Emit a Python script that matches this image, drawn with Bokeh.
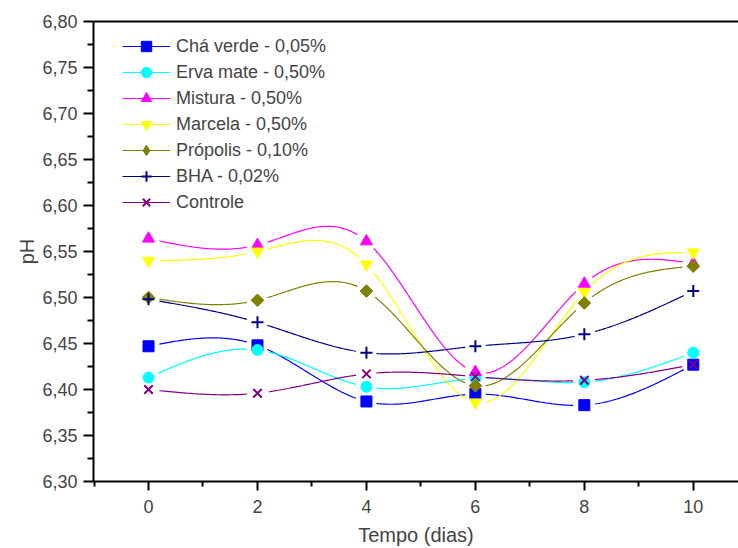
import numpy as np
from bokeh.plotting import figure
from bokeh.models import (FixedTicker, LinearAxis, Legend, LegendItem,
                          CustomJSTickFormatter, Range1d)
from bokeh.embed import file_html
from bokeh.resources import INLINE

# ---------------- data ----------------
tempo = [0, 2, 4, 6, 8, 10]
cha_verde = [6.447, 6.448, 6.387, 6.395, 6.383, 6.427]
erva_mate = [6.413, 6.443, 6.403, 6.412, 6.408, 6.440]
mistura = [6.564, 6.557, 6.561, 6.419, 6.515, 6.537]
marcela = [6.540, 6.550, 6.536, 6.386, 6.506, 6.549]
propolis = [6.500, 6.497, 6.507, 6.404, 6.494, 6.534]
bha = [6.498, 6.473, 6.440, 6.447, 6.460, 6.507]
controle = [6.400, 6.396, 6.417, 6.414, 6.410, 6.427]

series_names = ["Chá verde - 0,05%", "Erva mate - 0,50%", "Mistura - 0,50%",
                "Marcela - 0,50%", "Própolis - 0,10%", "BHA - 0,02%", "Controle"]
series_values = [cha_verde, erva_mate, mistura, marcela, propolis, bha, controle]
series_colors = ["#0000FF", "#00FFFF", "#FF00FF", "#FFFF00", "#808000", "#000080", "#800080"]

x_ticks = [0, 2, 4, 6, 8, 10]
x_minor = [-1, 1, 3, 5, 7, 9]
y_ticks = [6.30, 6.35, 6.40, 6.45, 6.50, 6.55, 6.60, 6.65, 6.70, 6.75, 6.80]
y_minor = [6.325, 6.375, 6.425, 6.475, 6.525, 6.575, 6.625, 6.675, 6.725, 6.775]

FONT = "Liberation Sans"


def natural_spline(x, y, n=400):
    x = np.asarray(x, float)
    y = np.asarray(y, float)
    k = len(x)
    h = np.diff(x)
    A = np.zeros((k, k))
    b = np.zeros(k)
    A[0, 0] = 1
    A[-1, -1] = 1
    for i in range(1, k - 1):
        A[i, i - 1] = h[i - 1]
        A[i, i] = 2 * (h[i - 1] + h[i])
        A[i, i + 1] = h[i]
        b[i] = 6 * ((y[i + 1] - y[i]) / h[i] - (y[i] - y[i - 1]) / h[i - 1])
    M = np.linalg.solve(A, b)
    xs = np.linspace(x[0], x[-1], n)
    ys = np.empty_like(xs)
    for j, t in enumerate(xs):
        i = min(np.searchsorted(x, t, side="right") - 1, k - 2)
        hi = h[i]
        a = x[i + 1] - t
        c = t - x[i]
        ys[j] = (M[i] * a ** 3 / (6 * hi) + M[i + 1] * c ** 3 / (6 * hi)
                 + (y[i] / hi - M[i] * hi / 6) * a + (y[i + 1] / hi - M[i + 1] * hi / 6) * c)
    return xs, ys


p = figure(width=738, height=548, output_backend="svg", toolbar_location=None,
           x_range=Range1d(-1.01, 10.83), y_range=Range1d(6.30, 6.80),
           min_border_left=93, min_border_right=0, min_border_top=21, min_border_bottom=40)
p.xgrid.visible = False
p.ygrid.visible = False
p.outline_line_color = None
p.background_fill_color = "white"

px_per_x = 54.5
px_per_y = 920.0

items = []
markers = ["square", "circle", "triangle", "inverted_triangle", "square", "cross", "x"]
sizes = [11, 11, 12, 12, 9, 12, 12]
angles = [0, 0, 0, 0, np.pi / 4, 0, 0]
for name, vals, col, mk, sz, ang in zip(series_names, series_values, series_colors, markers, sizes, angles):
    xs, ys = natural_spline(tempo, vals)
    # leave gaps around markers
    d = np.min(np.hypot((xs[:, None] - np.array(tempo)[None, :]) * px_per_x,
                        (ys[:, None] - np.array(vals)[None, :]) * px_per_y), axis=1)
    ys_g = ys.copy()
    ys_g[d < 10] = np.nan
    lr = p.line(xs, ys_g, line_color=col, line_width=1.2)
    lw = 2 if mk in ("cross", "x") else 1
    legend_rs = [lr]
    if ang != 0:
        # diamond shape for the legend key, hidden beneath the rotated squares
        dr = p.scatter(tempo, vals, marker="diamond", size=8, fill_color=col,
                       line_color=col)
        legend_rs.append(dr)
    mr = p.scatter(tempo, vals, marker=mk, size=sz, angle=ang, fill_color=col,
                   line_color=col, line_width=lw)
    if ang == 0:
        legend_rs.append(mr)
    items.append(LegendItem(label=name, renderers=legend_rs))

legend = Legend(items=items, location=(29, 266), padding=0, spacing=0, margin=0,
                label_height=26, glyph_height=26, glyph_width=48, label_standoff=6,
                border_line_alpha=0, background_fill_alpha=0,
                label_text_font=FONT, label_text_font_size="18px")
p.add_layout(legend, "center")

# x axis
xa = p.xaxis[0]
xa.ticker = FixedTicker(ticks=x_ticks, minor_ticks=x_minor)
xa.axis_label = "Tempo (dias)"
xa.axis_label_text_font = FONT
xa.axis_label_text_font_size = "20px"
xa.axis_label_text_font_style = "normal"
xa.axis_label_standoff = 8
xa.major_label_text_font = FONT
xa.major_label_text_font_size = "18px"
xa.major_label_standoff = 9
xa.axis_line_width = 2
xa.major_tick_line_width = 2
xa.minor_tick_line_width = 2
xa.major_tick_out = 9
xa.major_tick_in = 0
xa.minor_tick_out = 5
xa.minor_tick_in = 0

# y axis
ya = p.yaxis[0]
ya.ticker = FixedTicker(ticks=y_ticks, minor_ticks=y_minor)
ya.formatter = CustomJSTickFormatter(code="return tick.toFixed(2).replace('.', ',');")
ya.axis_label = "pH"
ya.axis_label_text_font = FONT
ya.axis_label_text_font_size = "20px"
ya.axis_label_text_font_style = "normal"
ya.axis_label_standoff = 1
ya.major_label_text_font = FONT
ya.major_label_text_font_size = "18px"
ya.major_label_standoff = 6
ya.axis_line_width = 2
ya.major_tick_line_width = 2
ya.minor_tick_line_width = 2
ya.major_tick_out = 10
ya.major_tick_in = 0
ya.minor_tick_out = 6
ya.minor_tick_in = 0

# top frame line
top = LinearAxis(ticker=FixedTicker(ticks=[]), major_label_text_font_size="0px",
                 axis_line_width=2, major_tick_out=0, minor_tick_out=0)
p.add_layout(top, "above")
p.min_border_top = 21

open("out.html", "w").write(file_html(p, INLINE))
